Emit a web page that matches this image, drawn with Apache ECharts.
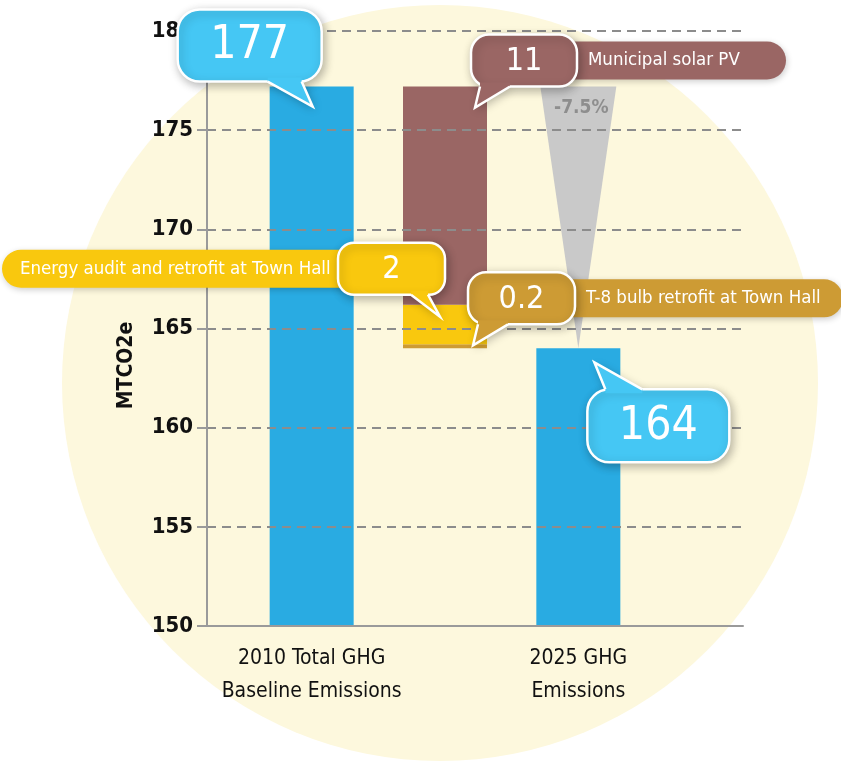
<!DOCTYPE html>
<html><head><meta charset="utf-8">
<script src="https://cdn.jsdelivr.net/npm/echarts@6.0.0/dist/echarts.min.js"></script>
<style>html,body{margin:0;padding:0;background:#fff}#c{width:841px;height:761px}</style>
</head><body><div id="c"></div>
<script>
// ---- data ----
const categories = ['2010 Total GHG\nBaseline Emissions', '', '2025 GHG\nEmissions'];
const baselineValue = 177.2;
const reductionNames = ['Municipal solar PV', 'Energy audit and retrofit at Town Hall', 'T-8 bulb retrofit at Town Hall'];
const reductionValues = [11, 2, 0.2];
const reductionLabels = ['11', '2', '0.2'];
const finalValue = 164.0;
const baselineLabel = '177';
const finalLabel = '164';
const changeLabel = '-7.5%';
const yAxisName = 'MTCO2e';
const yMin = 150, yMax = 180, yStep = 5;

// ---- styles ----
const FONT = "'Liberation Sans Narrow','DejaVu Sans Condensed','Roboto Condensed','Noto Sans',sans-serif";
const COL = {blue:'#29ABE2', bubbleBlue:'#45C7F4', maroon:'#9A6664', yellow:'#F9C80E', gold:'#CD9B34', wedge:'#C9C9C9', bg:'#FDF8DD', axis:'#9a9a9a', grid:'#8c8c8c'};
const reductionColors = [COL.maroon, COL.yellow, COL.gold];

const chart = echarts.init(document.getElementById('c'), null, {renderer:'canvas'});

const cumBase = baselineValue - reductionValues.reduce((a,b)=>a+b,0);
const series = [{
  type:'bar', name:'base', stack:'w', xAxisIndex:1, yAxisIndex:1, barWidth:84, z:2,
  data:[
    {value:baselineValue, itemStyle:{color:COL.blue}},
    {value:cumBase, itemStyle:{color:'rgba(0,0,0,0)'}},
    {value:finalValue, itemStyle:{color:COL.blue}}
  ]
}];
for (let i = reductionValues.length-1; i >= 0; i--) {
  series.push({
    type:'bar', name:reductionNames[i], stack:'w', xAxisIndex:1, yAxisIndex:1, barWidth:84, z:2,
    itemStyle:{color:reductionColors[i]},
    data:categories.map((c,k)=> k===1 ? reductionValues[i] : '-')
  });
}

chart.setOption({
  animation:false,
  backgroundColor:'#fff',
  grid:[
    {left:207, right:98, top:31, bottom:135},
    {left:245, right:196, top:31, bottom:135}
  ],
  xAxis:[
    {gridIndex:0, type:'category', data:[''], z:5,
     axisLine:{show:true, lineStyle:{color:COL.axis, width:2}}, axisTick:{show:false}, axisLabel:{show:false}},
    {gridIndex:1, type:'category', data:categories, z:5,
     axisLine:{show:false}, axisTick:{show:false},
     axisLabel:{fontFamily:FONT, fontSize:21, color:'#111', lineHeight:33, margin:16, interval:0}}
  ],
  yAxis:[
    {gridIndex:0, type:'value', min:yMin, max:yMax, interval:yStep, z:5,
     axisLine:{show:true, lineStyle:{color:COL.axis, width:2}},
     axisTick:{show:true, length:10, lineStyle:{color:COL.axis, width:2}},
     splitLine:{show:true, lineStyle:{color:COL.grid, width:2, type:[9,6]}},
     axisLabel:{fontFamily:FONT, fontWeight:'bold', fontSize:22, color:'#111', margin:14},
     name:yAxisName, nameLocation:'middle', nameGap:70,
     nameTextStyle:{fontFamily:FONT, fontWeight:'bold', fontSize:21, color:'#111', padding:[0,74,0,0]}},
    {gridIndex:1, type:'value', min:yMin, max:yMax, interval:yStep, show:false}
  ],
  series:series
});

// ---- annotations (positions derived from data through the axes) ----
function px(cat, val){ return chart.convertToPixel({seriesIndex:0}, [cat, val]); }

const gfx = [];
// background disc
gfx.push({type:'circle', z:-20, silent:true, shape:{cx:440, cy:383, r:378}, style:{fill:COL.bg}});

// reduction wedge
const pTop = px(2, baselineValue), pTip = px(2, finalValue);
gfx.push({type:'polygon', z:-5, silent:true,
  shape:{points:[[pTop[0]-38, pTop[1]], [pTop[0]+38, pTop[1]], [pTip[0], pTip[1]]]},
  style:{fill:COL.wedge}});
gfx.push({type:'text', z:-4, silent:true,
  style:{text:changeLabel, x:pTop[0]+3, y:pTop[1]+22, fill:'#8e8e8e', font:`bold 19px ${FONT}`, align:'center', verticalAlign:'middle', textAlign:'center', textVerticalAlign:'middle'}});

const SHADOW = {shadowBlur:10, shadowColor:'rgba(0,0,0,0.28)', shadowOffsetX:2, shadowOffsetY:3};
function addBubble(spec){
  const a = px(spec.cat, spec.val);
  const x = a[0]+spec.dx, y = a[1]+spec.dy, w = spec.w, h = spec.h;
  if (spec.pill){
    const ph = 38, py = y + h/2 - ph/2;
    let pxl, pw;
    if (spec.pill.dir==='right'){ pxl = x+w-20; pw = spec.pill.len+20; }
    else { pxl = x - spec.pill.len; pw = spec.pill.len+20; }
    gfx.push({type:'rect', z:50, silent:true, shape:{x:pxl, y:py, width:pw, height:ph, r:spec.pill.dir==='right'?[0,19,19,0]:[19,0,0,19]},
      style:{fill:spec.color, shadowBlur:6, shadowColor:'rgba(0,0,0,0.2)', shadowOffsetX:1, shadowOffsetY:2}});
    const tx = spec.pill.dir==='right' ? x+w+11 : pxl+18;
    gfx.push({type:'text', z:51, silent:true, style:{text:spec.pill.text, x:tx, y:py+ph/2, fill:'#fff', font:`18.5px ${FONT}`, align:'left', verticalAlign:'middle', textAlign:'left', textVerticalAlign:'middle'}});
  }
  const edgeY = spec.tail.side==='bottom' ? y+h : y;
  const inward = spec.tail.side==='bottom' ? -4 : 4;
  const b1 = [a[0]+spec.tail.b1, edgeY], b2 = [a[0]+spec.tail.b2, edgeY], tip = [a[0]+spec.tail.tx, a[1]+spec.tail.ty];
  gfx.push({type:'polygon', z:59, silent:true, shape:{points:[b1, tip, b2]}, style:Object.assign({fill:spec.color}, SHADOW)});
  gfx.push({type:'rect', z:60, silent:true, shape:{x:x, y:y, width:w, height:h, r:spec.r},
    style:Object.assign({fill:spec.color, stroke:'#fff', lineWidth:2.5}, SHADOW)});
  gfx.push({type:'polygon', z:61, silent:true, shape:{points:[[b1[0], edgeY+inward], b1, tip, b2, [b2[0], edgeY+inward]]}, style:{fill:spec.color}});
  gfx.push({type:'polyline', z:62, silent:true, shape:{points:[b1, tip, b2]}, style:{stroke:'#fff', lineWidth:2.5, fill:null, lineJoin:'miter'}});
  gfx.push({type:'text', z:63, silent:true, style:{text:spec.text, x:x+w/2, y:y+h/2+1, fill:'#fff', font:`${spec.fs}px ${FONT}`, align:'center', verticalAlign:'middle', textAlign:'center', textVerticalAlign:'middle'}});
}

// Municipal solar PV (top of waterfall)
addBubble({cat:1, val:baselineValue, dx:26, dy:-52, w:106, h:52, r:18, color:COL.maroon, text:reductionLabels[0], fs:32,
  tail:{side:'bottom', b1:35, b2:65, tx:30, ty:21}, pill:{dir:'right', len:209, text:reductionNames[0]}});
// T-8 bulb
addBubble({cat:1, val:cumBase, dx:23, dy:-76, w:107, h:52, r:18, color:COL.gold, text:reductionLabels[2], fs:32,
  tail:{side:'bottom', b1:33, b2:63, tx:28, ty:-3}, pill:{dir:'right', len:268, text:reductionNames[2]}});
// Energy audit
addBubble({cat:1, val:cumBase+reductionValues[2]+reductionValues[1], dx:-107, dy:-62, w:107, h:52, r:16, color:COL.yellow, text:reductionLabels[1], fs:32,
  tail:{side:'bottom', b1:-34, b2:-17, tx:-5, ty:12}, pill:{dir:'left', len:336, text:reductionNames[1]}});
// Baseline
addBubble({cat:0, val:baselineValue, dx:-134, dy:-77, w:144, h:72, r:22, color:COL.bubbleBlue, text:baselineLabel, fs:46,
  tail:{side:'bottom', b1:-44, b2:-10, tx:1, ty:20}});
// Final
addBubble({cat:2, val:finalValue, dx:9, dy:41, w:142, h:73, r:22, color:COL.bubbleBlue, text:finalLabel, fs:46,
  tail:{side:'top', b1:27, b2:64, tx:16, ty:14}});

chart.setOption({graphic:gfx});
</script>
</body></html>
